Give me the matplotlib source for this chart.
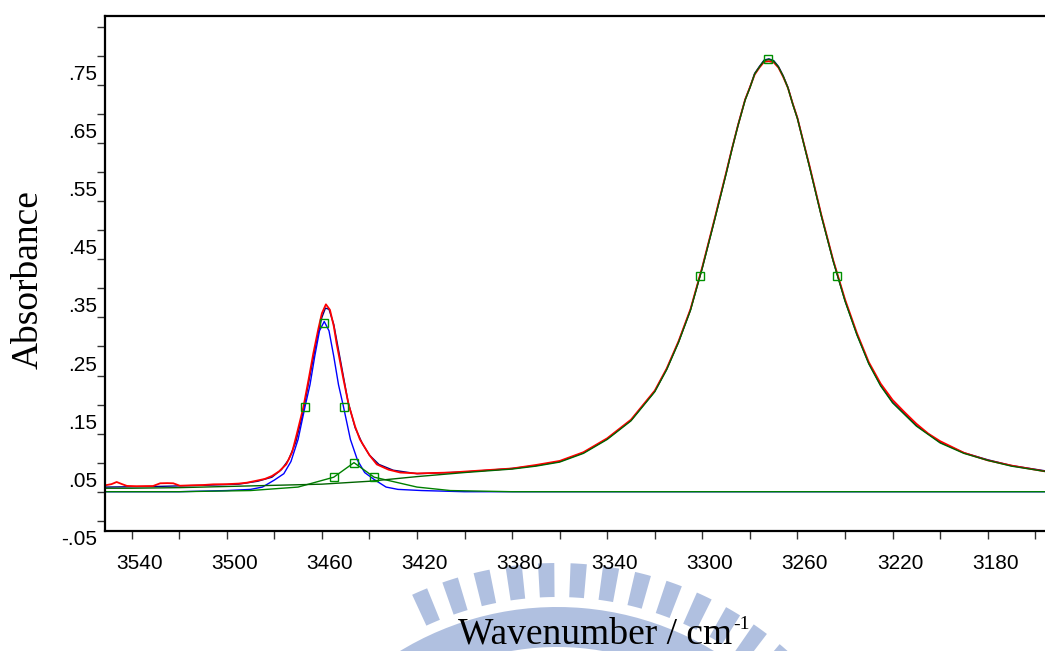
import numpy as np
import matplotlib
matplotlib.use("Agg")
import matplotlib.pyplot as plt
from matplotlib import transforms
from matplotlib.patches import Wedge

# measured spectrum (red)
red_wn = [3551.2, 3548.5, 3546.3, 3544, 3542, 3538, 3534, 3531, 3528, 3525, 3522.5, 3519.7,
          3515, 3510, 3505.7, 3500, 3495, 3491.6, 3487.4, 3484, 3481, 3478, 3475, 3472.5,
          3470.5, 3467.8, 3465.5, 3463.6, 3461.5, 3460, 3458.3, 3456.6, 3455, 3453.8, 3451,
          3448.7, 3446, 3444, 3440, 3436.9, 3432, 3427, 3420, 3415, 3406, 3395, 3380, 3370,
          3360, 3350, 3340, 3330, 3320, 3315, 3310, 3305, 3300, 3295, 3290, 3287.5, 3285,
          3282, 3280, 3278, 3276, 3274, 3272, 3270, 3268, 3266, 3264, 3262, 3260, 3257.5,
          3255, 3250, 3245, 3240, 3235, 3230, 3225, 3220, 3215, 3210, 3205, 3200, 3190, 3180,
          3170, 3155.9]
red_abs = [0.061, 0.063, 0.0667, 0.063, 0.060, 0.0595, 0.0597, 0.0598, 0.0645, 0.0648, 0.0645,
           0.0603, 0.061, 0.0615, 0.0627, 0.063, 0.064, 0.0655, 0.069, 0.072, 0.077, 0.085,
           0.097, 0.118, 0.150, 0.195, 0.245, 0.288, 0.330, 0.357, 0.3725, 0.363, 0.335, 0.305,
           0.245, 0.199, 0.162, 0.140, 0.113, 0.097, 0.088, 0.083, 0.0815, 0.082, 0.083, 0.086,
           0.090, 0.096, 0.103, 0.118, 0.142, 0.174, 0.224, 0.262, 0.309, 0.364, 0.437, 0.517,
           0.599, 0.641, 0.681, 0.725, 0.746, 0.768, 0.780, 0.790, 0.791, 0.789, 0.780, 0.764,
           0.745, 0.718, 0.693, 0.652, 0.612, 0.527, 0.449, 0.381, 0.323, 0.273, 0.236, 0.208,
           0.187, 0.167, 0.150, 0.137, 0.117, 0.104, 0.095, 0.085]

# total fit (navy)
fit_wn = [3551.2, 3530, 3510, 3495, 3487, 3481, 3477, 3474, 3471, 3468, 3465, 3462, 3460,
          3458.5, 3457, 3455, 3452, 3449, 3446, 3443, 3440, 3436, 3430, 3420, 3400, 3380,
          3370, 3360, 3350, 3340, 3330, 3320, 3315, 3310, 3305, 3300, 3295, 3290, 3287.5, 3285,
          3282, 3280, 3278, 3276, 3274, 3272, 3270, 3268, 3266, 3264, 3262, 3260, 3257.5, 3255,
          3250, 3245, 3240, 3235, 3230, 3225, 3220, 3210, 3200, 3190, 3180, 3170, 3155.9]
fit_abs = [0.058, 0.059, 0.061, 0.063, 0.068, 0.075, 0.088, 0.105, 0.135, 0.185, 0.250, 0.315,
           0.350, 0.366, 0.364, 0.338, 0.272, 0.205, 0.160, 0.133, 0.113, 0.097, 0.087, 0.081,
           0.084, 0.090, 0.095, 0.102, 0.117, 0.141, 0.173, 0.223, 0.261, 0.308, 0.363, 0.436,
           0.516, 0.598, 0.641, 0.681, 0.725, 0.746, 0.770, 0.782, 0.793, 0.795, 0.792, 0.782,
           0.766, 0.746, 0.718, 0.693, 0.652, 0.611, 0.526, 0.448, 0.379, 0.321, 0.271, 0.233,
           0.204, 0.164, 0.135, 0.117, 0.105, 0.095, 0.086]

# band 1 (blue)
b1_wn = [3551.2, 3520, 3500, 3490, 3485, 3480, 3476, 3473, 3470, 3467, 3465, 3463, 3461, 3459,
         3457, 3455, 3453, 3451, 3448, 3445, 3442, 3438, 3433, 3428, 3418, 3400, 3155.9]
b1_abs = [0.050, 0.050, 0.052, 0.054, 0.058, 0.070, 0.081, 0.102, 0.140, 0.198, 0.234, 0.283,
          0.327, 0.343, 0.327, 0.283, 0.234, 0.198, 0.140, 0.104, 0.083, 0.071, 0.058, 0.054,
          0.052, 0.050, 0.050]

# band 2 (green, small)
b2_wn = [3551.2, 3520, 3490, 3470, 3455, 3446.5, 3438, 3420, 3406, 3380, 3155.9]
b2_abs = [0.050, 0.050, 0.052, 0.058, 0.075, 0.100, 0.075, 0.058, 0.052, 0.050, 0.050]

# band 3 (green, large)
b3_wn = [3551.2, 3540, 3520, 3500, 3480, 3460, 3440, 3420, 3400, 3380, 3370, 3360, 3350, 3340,
         3330, 3320, 3315, 3310, 3305, 3300, 3295, 3290, 3287.5, 3285, 3282, 3280, 3278, 3276,
         3274, 3272, 3270, 3268, 3266, 3264, 3262, 3260, 3257.5, 3255, 3250, 3245, 3240, 3235,
         3230, 3225, 3220, 3210, 3200, 3190, 3180, 3170, 3155.9]
b3_abs = [0.056, 0.056, 0.057, 0.059, 0.061, 0.063, 0.068, 0.076, 0.083, 0.089, 0.094, 0.101,
          0.116, 0.140, 0.172, 0.222, 0.260, 0.307, 0.362, 0.435, 0.515, 0.597, 0.640, 0.680,
          0.724, 0.745, 0.769, 0.781, 0.792, 0.794, 0.791, 0.781, 0.765, 0.745, 0.717, 0.692,
          0.651, 0.610, 0.525, 0.447, 0.378, 0.320, 0.270, 0.232, 0.203, 0.163, 0.134, 0.116,
          0.104, 0.094, 0.085]

# peak / half-height markers
mk_wn = [3467.1, 3459.1, 3450.8, 3454.9, 3446.5, 3438.1, 3301.0, 3272.2, 3243.3]
mk_abs = [0.196, 0.340, 0.196, 0.075, 0.100, 0.075, 0.421, 0.794, 0.421]

xtick_vals = [3540, 3500, 3460, 3420, 3380, 3340, 3300, 3260, 3220, 3180]
ytick_vals = [-0.05, 0.05, 0.15, 0.25, 0.35, 0.45, 0.55, 0.65, 0.75]
ytick_text = ['-.05', '.05', '.15', '.25', '.35', '.45', '.55', '.65', '.75']

W, H = 1045, 651
fig = plt.figure(figsize=(W / 100, H / 100), dpi=100)

# faint watermark behind the x label
bg = fig.add_axes([0, 0, 1, 1], zorder=0)
bg.set_xlim(0, W)
bg.set_ylim(0, H)
bg.axis('off')
wm = '#b0c0e0'
cx, cy = 557, H - 909
for k in range(-9, 5):
    th = 91.8 + 5.4 * k
    bg.add_patch(Wedge((cx, cy), 346, th - 1.35, th + 1.35, width=34, color=wm, lw=0))
bg.add_patch(Wedge((cx, cy), 302, 48, 122, width=40, color=wm, lw=0))

ax = fig.add_axes([105 / W, 1 - 530.7 / H, (W - 105) / W, (530.7 - 15.7) / H], zorder=1)

ax.plot(fit_wn, fit_abs, color='#000080', lw=1.0)
ax.plot(red_wn, red_abs, color='#ff0000', lw=1.3)
ax.plot(b1_wn, b1_abs, color='#0000ff', lw=1.0)
ax.plot(b2_wn, b2_abs, color='#008000', lw=1.0)
ax.plot(b3_wn, b3_abs, color='#006400', lw=1.0)
ax.plot(mk_wn, mk_abs, ls='none', marker='s', ms=6, mfc='none', mec='#009000', mew=1.0)

ax.set_xlim(3551.2, 3155.9)
ax.set_ylim(-0.0171, 0.8693)
ax.set_xticks(np.arange(3160, 3541, 20))
ax.set_yticks(np.arange(0, 0.86, 0.05))
ax.set_xticklabels([])
ax.set_yticklabels([])
ax.tick_params(direction='out', length=6, width=1, color='#333333')
ax.spines['right'].set_visible(False)
for s in ['left', 'bottom', 'top']:
    ax.spines[s].set_linewidth(1.6)

# tick labels sit a little off their ticks, as in the original
xoff = transforms.offset_copy(ax.get_xaxis_transform(), fig=fig, x=7.5, y=-33, units='dots')
for w in xtick_vals:
    ax.text(w, 0, str(w), transform=xoff, ha='center', va='center',
            fontsize=15, family='Liberation Sans', clip_on=False)
yoff = transforms.offset_copy(ax.get_yaxis_transform(), fig=fig, x=-7.7, y=10.5, units='dots')
for v, t in zip(ytick_vals, ytick_text):
    ax.text(0, v, t, transform=yoff, ha='right', va='center',
            fontsize=15, family='Liberation Sans', clip_on=False)

fig.text(28 / W, 1 - 280 / H, 'Absorbance', rotation=90, ha='center', va='center',
         fontsize=27, family='Liberation Serif')
fig.text(458 / W, 1 - 643 / H, 'Wavenumber / cm', ha='left', va='baseline',
         fontsize=27, family='Liberation Serif', color='black')
fig.text(733 / W, 1 - 629 / H, '-1', ha='left', va='baseline',
         fontsize=14, family='Liberation Serif', color='black')

fig.savefig('out.png', dpi=100)
